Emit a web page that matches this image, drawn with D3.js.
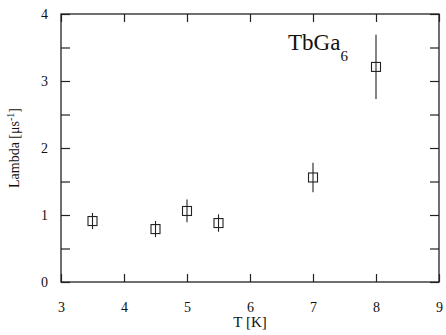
<!DOCTYPE html>
<html><head><meta charset="utf-8">
<script src="https://cdn.jsdelivr.net/npm/d3@7"></script>
<style>body{margin:0;background:#fff}svg{display:block}</style>
</head><body><svg id="c" width="446" height="335" font-family="Liberation Serif"></svg>
<script>
const temps = [3.5, 4.5, 5.0, 5.5, 7.0, 8.0];
const lambda = [0.91, 0.79, 1.06, 0.88, 1.56, 3.21];
const errs = [0.12, 0.12, 0.17, 0.13, 0.22, 0.48];
const xTicks = [3, 4, 5, 6, 7, 8, 9];
const yTicks = [0, 1, 2, 3, 4];
const yMinor = [0.5, 1.5, 2.5, 3.5];

const FONT = "Liberation Serif";
const svg = d3.select("#c");
const L = 61, R = 439, T = 14, B = 282;
const x = d3.scaleLinear().domain([3, 9]).range([L, R]);
const y = d3.scaleLinear().domain([0, 4]).range([B, T]);
const ink = "#222";

svg.append("rect").attr("x", L).attr("y", T).attr("width", R - L).attr("height", B - T)
  .attr("fill", "none").attr("stroke", ink).attr("stroke-width", 1.3);

const fmt = d3.format("d");
const bx = svg.append("g").attr("transform", `translate(0,${B})`)
  .call(d3.axisBottom(x).tickValues(xTicks).tickSize(-8).tickPadding(20).tickFormat(fmt));
const tx = svg.append("g").attr("transform", `translate(0,${T})`)
  .call(d3.axisTop(x).tickValues(xTicks).tickSize(-8).tickFormat(""));
const ly = svg.append("g").attr("transform", `translate(${L},0)`)
  .call(d3.axisLeft(y).tickValues(yTicks).tickSize(-9).tickPadding(13).tickFormat(fmt));
const lym = svg.append("g").attr("transform", `translate(${L},0)`)
  .call(d3.axisLeft(y).tickValues(yMinor).tickSize(-9).tickFormat(""));
const ry = svg.append("g").attr("transform", `translate(${R},0)`)
  .call(d3.axisRight(y).tickValues(yTicks.concat(yMinor)).tickSize(-9).tickFormat(""));
[bx, tx, ly, lym, ry].forEach(g => {
  g.select(".domain").remove();
  g.attr("font-family", FONT);
  g.selectAll("line").attr("stroke", ink).attr("stroke-width", 1.2);
  g.selectAll("text").attr("font-family", FONT).attr("font-size", 14).attr("fill", "#111");
});

svg.append("text").attr("x", x(6)).attr("y", 327).attr("text-anchor", "middle")
  .attr("font-family", FONT).attr("font-size", 15).attr("fill", "#111").text("T [K]");
const yl = svg.append("text").attr("transform", `translate(19,${y(2)}) rotate(-90)`)
  .attr("text-anchor", "middle").attr("font-family", FONT).attr("font-size", 14).attr("fill", "#111");
yl.append("tspan").text("Lambda [μs");
yl.append("tspan").attr("dy", -5).attr("font-size", 10).text("-1");
yl.append("tspan").attr("dy", 5).text("]");

const lab = svg.append("text").attr("x", 288).attr("y", 50)
  .attr("font-family", FONT).attr("font-size", 23).attr("fill", "#111");
lab.append("tspan").text("TbGa");
lab.append("tspan").attr("dy", 11).attr("font-size", 15).text("6");

const pts = temps.map((t, i) => ({t, v: lambda[i], e: errs[i]}));
const g = svg.append("g");
g.selectAll("line.err").data(pts).enter().append("line").attr("class", "err")
  .attr("x1", d => x(d.t)).attr("x2", d => x(d.t))
  .attr("y1", d => y(d.v + d.e)).attr("y2", d => y(d.v - d.e))
  .attr("stroke", ink).attr("stroke-width", 1.1);
const s = 9;
g.selectAll("rect.pt").data(pts).enter().append("rect").attr("class", "pt")
  .attr("x", d => x(d.t) - s / 2).attr("y", d => y(d.v) - s / 2)
  .attr("width", s).attr("height", s)
  .attr("fill", "none").attr("stroke", ink).attr("stroke-width", 1.1);
</script></body></html>
